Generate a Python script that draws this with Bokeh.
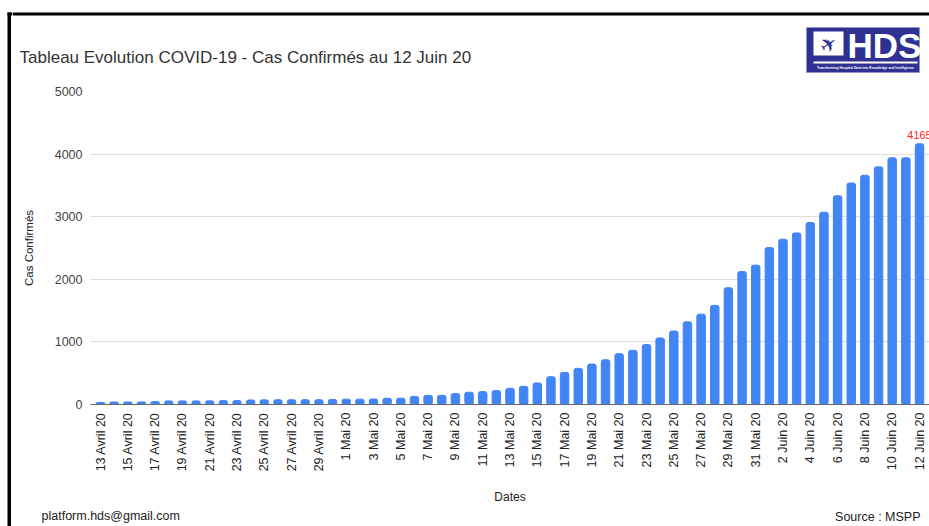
from bokeh.plotting import figure
from bokeh.layouts import row, column
from bokeh.models import FixedTicker, Label, BoxAnnotation, Range1d
from bokeh.embed import file_html
from bokeh.resources import INLINE

dates = [
    "13 Avril 20", "14 Avril 20", "15 Avril 20", "16 Avril 20", "17 Avril 20", "18 Avril 20",
    "19 Avril 20", "20 Avril 20", "21 Avril 20", "22 Avril 20", "23 Avril 20", "24 Avril 20",
    "25 Avril 20", "26 Avril 20", "27 Avril 20", "28 Avril 20", "29 Avril 20", "30 Avril 20",
    "1 Mai 20", "2 Mai 20", "3 Mai 20", "4 Mai 20", "5 Mai 20", "6 Mai 20", "7 Mai 20",
    "8 Mai 20", "9 Mai 20", "10 Mai 20", "11 Mai 20", "12 Mai 20", "13 Mai 20", "14 Mai 20",
    "15 Mai 20", "16 Mai 20", "17 Mai 20", "18 Mai 20", "19 Mai 20", "20 Mai 20", "21 Mai 20",
    "22 Mai 20", "23 Mai 20", "24 Mai 20", "25 Mai 20", "26 Mai 20", "27 Mai 20", "28 Mai 20",
    "29 Mai 20", "30 Mai 20", "31 Mai 20",
    "1 Juin 20", "2 Juin 20", "3 Juin 20", "4 Juin 20", "5 Juin 20", "6 Juin 20",
    "7 Juin 20", "8 Juin 20", "9 Juin 20", "10 Juin 20", "11 Juin 20", "12 Juin 20",
]

cas_confirmes = [
    33, 40, 40, 41, 47, 57, 57, 57, 58, 62, 62, 72, 74, 76, 76, 76, 76, 81,
    85, 85, 88, 100, 101, 129, 146, 146, 175, 196, 206, 222, 259, 291, 344, 444,
    513, 577, 646, 714, 812, 865, 958, 1063, 1174, 1320, 1443, 1584, 1865, 2124, 2226,
    2507, 2640, 2740, 2906, 3072, 3334, 3538, 3662, 3796, 3941, 3941, 4165,
]

y_ticks = [0, 1000, 2000, 3000, 4000, 5000]
shown_ticks = list(range(0, len(dates), 2))

title_text = "Tableau Evolution COVID-19 - Cas Confirmés au 12 Juin 20"
email_text = "platform.hds@gmail.com"
source_text = "Source : MSPP"
logo_text = "HDS"
logo_tagline = "Transforming Hospital Data into Knowledge and Intelligence"

FONT = "Liberation Sans"
NAVY = "#2e3192"

# page layout (pixels from the top-left of the page)
PAGE_W, PAGE_H = 929, 526
STRIP_W = 12
HEAD_H = 84
FOOT_H = 18
MAIN_H = PAGE_H - HEAD_H - FOOT_H
COL_W = PAGE_W - STRIP_W

# main plot frame in page pixels
FL, FR, FT, FB = 90, 929, 91, 404
XS = -0.7326
KX = 13.65
XE = XS + (FR - FL) / KX
YMAX = 5000


def canvas_fig(w, h, x0, y0):
    f = figure(width=w, height=h, output_backend="svg", toolbar_location=None,
               x_range=Range1d(x0, x0 + w), y_range=Range1d(y0 + h, y0),
               x_axis_type=None, y_axis_type=None,
               min_border=0, min_border_left=0, min_border_right=0,
               min_border_top=0, min_border_bottom=0)
    f.frame_align = False
    f.outline_line_color = None
    f.background_fill_color = "white"
    f.border_fill_color = "white"
    f.title.visible = False
    return f


def box(f, l, r, t, b, color, line=None):
    f.add_layout(BoxAnnotation(left=l, right=r, top=t, bottom=b, fill_color=color,
                               fill_alpha=1, line_color=line, line_width=1))


# ---- left strip with the black frame line
strip = canvas_fig(STRIP_W, PAGE_H, 0, 0)
box(strip, 7, 10.5, 12, PAGE_H, "black")
box(strip, 7, STRIP_W, 12, 15, "black")

# ---- header with title and logo
head = canvas_fig(COL_W, HEAD_H, STRIP_W, 0)
box(head, STRIP_W, PAGE_W, 12, 15, "black")
head.add_layout(Label(x=19, y=57, text=title_text, text_baseline="middle",
                      text_align="left", text_font=FONT, text_font_size="17px",
                      text_color="#333333"))
box(head, 806, 919, 27, 72, NAVY, "#8c8fc8")
box(head, 813, 843, 31, 55, "white")
box(head, 813, 917, 61, 63, "white")
head.add_layout(Label(x=828, y=44, text="✈", text_align="center", text_baseline="middle",
                      angle=0.6, text_font="DejaVu Sans", text_font_size="20px",
                      text_color=NAVY))
head.add_layout(Label(x=884, y=45, text=logo_text, text_align="center",
                      text_baseline="middle", text_font=FONT, text_font_style="bold",
                      text_font_size="35px", text_color="white"))
head.add_layout(Label(x=865, y=67, text=logo_tagline, text_align="center",
                      text_baseline="middle", text_font=FONT, text_font_style="bold",
                      text_font_size="3.4px", text_color="white"))

# ---- main chart
idx = list(range(len(cas_confirmes)))
p = figure(width=COL_W, height=MAIN_H, output_backend="svg", toolbar_location=None,
           x_range=Range1d(XS, XE), y_range=Range1d(0, YMAX),
           min_border_left=FL - STRIP_W, min_border_right=PAGE_W - FR,
           min_border_top=FT - HEAD_H, min_border_bottom=(HEAD_H + MAIN_H) - FB)
p.frame_align = False
p.title.visible = False
p.outline_line_color = None
p.background_fill_color = "white"
p.border_fill_color = "white"

p.vbar(x=idx, top=cas_confirmes, width=0.62, color="#4285f4", border_radius=2)

p.xaxis.ticker = FixedTicker(ticks=shown_ticks)
p.xaxis.major_label_overrides = {i: dates[i] for i in shown_ticks}
p.xaxis.major_label_orientation = 1.5707963267948966
p.xaxis.major_tick_line_color = None
p.xaxis.minor_tick_line_color = None
p.xaxis.major_tick_out = 0
p.xaxis.major_tick_in = 0
p.xaxis.minor_tick_out = 0
p.xaxis.axis_line_color = "#666666"
p.xaxis.major_label_standoff = 8
p.xaxis.major_label_text_font = FONT
p.xaxis.major_label_text_font_size = "12.5px"
p.xaxis.major_label_text_color = "#222222"
p.xaxis.axis_label = "Dates"
p.xaxis.axis_label_text_font = FONT
p.xaxis.axis_label_text_font_style = "normal"
p.xaxis.axis_label_text_font_size = "12px"
p.xaxis.axis_label_text_color = "#222222"
p.xaxis.axis_label_standoff = 16

p.yaxis.ticker = FixedTicker(ticks=y_ticks)
p.yaxis.axis_line_color = None
p.yaxis.major_tick_line_color = None
p.yaxis.minor_tick_line_color = None
p.yaxis.major_tick_out = 0
p.yaxis.major_tick_in = 0
p.yaxis.minor_tick_out = 0
p.yaxis.major_label_standoff = 8
p.yaxis.major_label_text_font = FONT
p.yaxis.major_label_text_font_size = "12.5px"
p.yaxis.major_label_text_color = "#444444"
p.yaxis.axis_label = "Cas Confirmés"
p.yaxis.axis_label_text_font = FONT
p.yaxis.axis_label_text_font_style = "normal"
p.yaxis.axis_label_text_font_size = "11.5px"
p.yaxis.axis_label_text_color = "#222222"
p.yaxis.axis_label_standoff = 17

p.xgrid.grid_line_color = None
p.ygrid.grid_line_color = "#dddddd"
p.ygrid.grid_line_width = 1

p.add_layout(Label(x=idx[-1], y=cas_confirmes[-1], text=str(cas_confirmes[-1]),
                   text_align="center", text_baseline="bottom", y_offset=5,
                   text_color="#ff2a2a", text_font=FONT, text_font_size="11px"))

# ---- footer
foot = canvas_fig(COL_W, FOOT_H, STRIP_W, HEAD_H + MAIN_H)
foot.add_layout(Label(x=41, y=515, text=email_text, text_baseline="middle",
                      text_align="left", text_font=FONT, text_font_size="12.5px",
                      text_color="#222222"))
foot.add_layout(Label(x=920, y=516, text=source_text, text_baseline="middle",
                      text_align="right", text_font=FONT, text_font_size="12.5px",
                      text_color="#222222"))

layout = row(strip, column(head, p, foot, spacing=0), spacing=0)
open("out.html", "w").write(file_html(layout, INLINE))
